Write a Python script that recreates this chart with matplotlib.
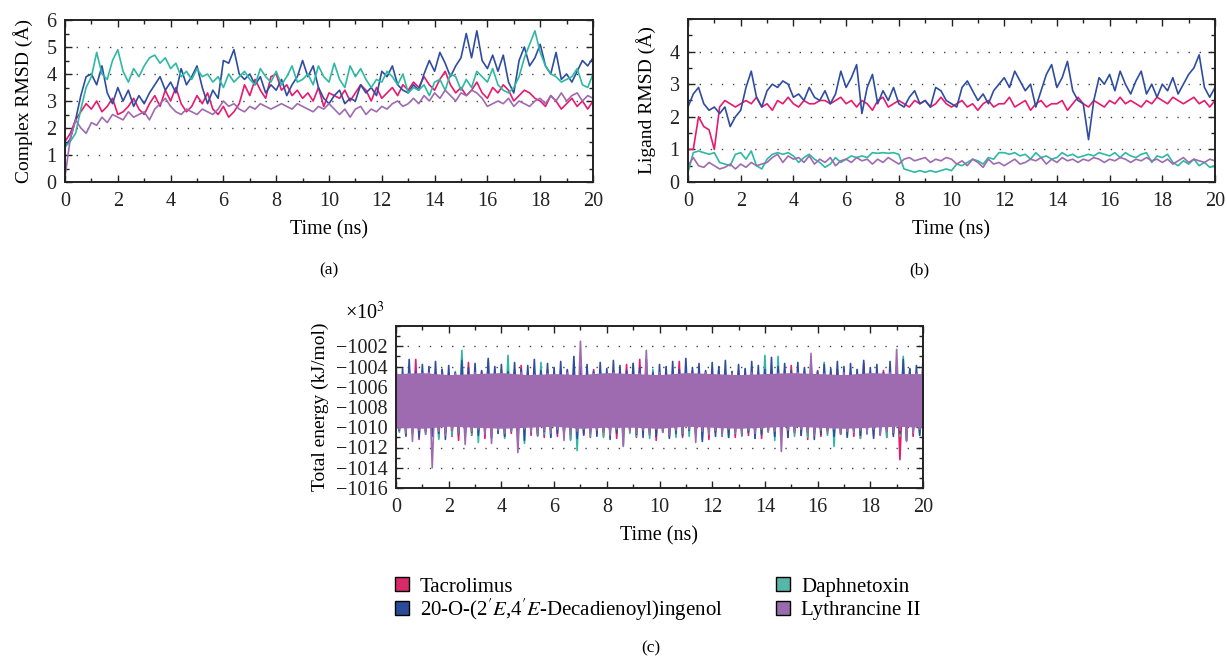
import numpy as np
import matplotlib
matplotlib.use("Agg")
import matplotlib.pyplot as plt
from matplotlib.lines import Line2D
from matplotlib.ticker import MultipleLocator

plt.rcParams['font.family'] = ['Liberation Serif', 'DejaVu Serif']
plt.rcParams['mathtext.fontset'] = 'stix'

# ---------------- data ----------------
names = ["Tacrolimus", "20-O-(2$'E$,4$'E$-Decadienoyl)ingenol",
         "Daphnetoxin", "Lythrancine II"]
colors = ["#E8196E", "#2F4DA0", "#2DB9A3", "#9E6BB0"]
legend_colors = ["#D92A6C", "#2A4C98", "#56B6A8", "#9A6AAE"]

# (a) Complex RMSD (Angstrom), sampled every 0.2 ns
cx_tac = [1.5,1.8,2.3,2.6,2.9, 2.7,3.0,2.6,2.8,3.1,
          2.5,2.6,2.8,3.1,2.7, 2.5,2.9,3.2,2.8,3.4,
          3.0,3.5,2.9,2.6,2.8, 3.2,2.9,3.3,2.7,2.5,
          2.8,2.4,2.6,2.9,3.6, 3.2,3.8,3.4,3.1,3.9,
          4.0,3.4,3.6,3.2,3.4, 3.1,3.3,3.0,3.5,2.8,
          3.3,3.2,3.1,3.4,3.0, 3.3,3.6,3.4,3.0,3.5,
          3.1,3.3,3.5,3.2,3.6, 3.4,3.7,3.5,3.9,3.6,
          3.4,3.8,4.1,3.6,3.3, 3.5,3.2,3.4,3.7,3.3,
          3.1,3.5,3.3,3.6,3.4, 3.0,3.2,3.4,3.3,3.1,
          3.0,2.8,3.2,3.0,2.7, 2.9,3.1,2.8,3.0,2.7, 3.0]
cx_ing = [1.3,1.6,2.3,3.2,3.9, 4.0,3.6,4.3,3.3,2.9,
          3.5,3.0,3.4,2.8,3.2, 2.9,3.3,3.6,3.9,3.4,
          3.7,3.3,4.2,3.6,3.9, 4.3,3.5,2.9,3.4,3.1,
          4.5,4.4,4.9,4.0,3.8, 4.0,3.6,3.9,3.3,3.6,
          3.4,3.8,3.2,3.6,3.9, 4.5,3.9,4.3,3.5,3.1,
          2.9,3.2,3.4,2.9,3.1, 3.0,3.6,3.3,3.5,3.2,
          4.1,3.9,4.3,3.6,3.4, 3.3,3.6,3.4,4.0,4.5,
          4.1,4.8,4.4,3.9,4.3, 4.6,5.5,4.6,5.6,4.5,
          4.2,4.7,4.1,4.7,3.7, 3.3,4.5,5.0,4.3,4.6,
          5.1,4.3,4.0,4.8,3.8, 4.0,3.7,4.1,4.5,4.3, 4.6]
cx_dap = [1.3,1.5,1.8,2.7,3.5, 3.9,4.8,4.0,3.8,4.5,
          4.9,4.1,3.7,4.2,3.9, 4.3,4.6,4.7,4.4,4.6,
          4.2,4.4,3.9,4.1,3.8, 4.2,3.9,4.0,3.7,3.9,
          3.5,4.0,3.7,3.9,4.1, 3.8,3.6,4.2,3.9,3.7,
          4.1,3.6,3.9,4.3,3.7, 3.8,4.0,3.6,4.3,3.9,
          3.7,4.4,3.8,3.5,4.3, 3.9,4.2,3.8,3.5,3.8,
          3.7,4.1,3.9,3.6,4.0, 3.3,3.5,3.4,3.6,3.2,
          3.7,3.8,3.4,4.0,3.9, 3.4,3.8,3.5,4.1,3.9,
          3.7,4.2,3.6,3.4,3.3, 3.5,3.9,4.6,5.1,5.6,
          4.8,4.3,4.0,3.9,3.7, 3.8,3.9,4.2,3.6,3.5, 4.0]
cx_lyt = [0.2,1.6,2.3,2.0,1.8, 2.2,2.1,2.4,2.2,2.5,
          2.4,2.3,2.6,2.4,2.5, 2.6,2.3,2.7,2.9,3.1,
          2.8,2.6,2.5,2.7,2.6, 2.5,2.7,2.6,2.5,2.7,
          3.0,2.8,2.9,2.7,2.6, 2.8,2.7,2.9,2.8,2.7,
          2.8,2.9,2.8,2.7,2.9, 2.8,2.7,2.6,2.8,2.7,
          2.9,2.7,2.5,2.7,2.4, 2.7,2.8,2.5,2.7,2.6,
          2.8,2.7,2.9,3.0,2.8, 2.9,3.1,2.9,3.2,3.0,
          3.3,3.1,3.4,3.2,3.0, 3.3,3.2,3.4,3.3,3.1,
          2.8,2.9,3.0,2.9,3.1, 2.8,3.0,2.9,2.8,3.0,
          3.1,2.9,3.2,3.0,3.3, 3.0,3.2,3.3,3.0,3.2, 3.1]

# (b) Ligand RMSD (Angstrom), sampled every 0.2 ns
lg_tac = [1.0,1.0,2.0,1.7,1.6, 1.0,2.3,2.5,2.4,2.3,
          2.4,2.5,2.4,2.6,2.3, 2.4,2.2,2.5,2.4,2.6,
          2.4,2.3,2.5,2.4,2.4, 2.5,2.5,2.4,2.5,2.6,
          2.4,2.5,2.3,2.5,2.4, 2.2,2.5,2.6,2.3,2.4,
          2.5,2.4,2.3,2.5,2.4, 2.5,2.3,2.4,2.6,2.4,
          2.3,2.4,2.5,2.3,2.4, 2.2,2.4,2.5,2.3,2.4,
          2.4,2.6,2.3,2.4,2.5, 2.2,2.4,2.5,2.3,2.4,
          2.4,2.5,2.2,2.4,2.6, 2.4,2.3,2.5,2.4,2.3,
          2.5,2.4,2.6,2.4,2.5, 2.4,2.3,2.5,2.4,2.6,
          2.5,2.4,2.6,2.5,2.4, 2.5,2.6,2.4,2.5,2.3, 2.5]
lg_ing = [2.3,2.7,2.9,2.4,2.2, 2.3,2.1,2.3,1.7,2.0,
          2.2,2.9,3.4,2.6,2.3, 2.8,3.0,2.9,3.1,3.0,
          2.6,2.7,2.5,2.9,2.6, 2.5,2.8,2.4,2.7,3.4,
          2.9,3.2,3.6,2.1,2.9, 3.3,2.4,2.8,2.5,2.9,
          2.4,2.3,2.6,2.8,2.4, 2.5,2.3,2.9,2.8,2.5,
          2.4,2.3,2.9,3.1,2.8, 2.5,2.7,2.4,2.8,3.0,
          3.2,2.9,3.4,3.1,2.8, 3.0,2.3,2.8,3.3,3.6,
          2.9,3.2,3.7,2.8,2.5, 2.4,1.3,2.5,3.2,3.0,
          3.3,2.8,3.4,3.0,2.7, 3.1,3.4,2.7,3.0,2.6,
          3.0,2.8,3.2,2.7,3.0, 3.3,3.5,3.9,2.9,2.6, 2.9]
lg_dap = [0.3,0.9,0.95,0.9,0.85, 0.9,0.6,0.55,0.5,0.85,
          0.9,0.7,0.95,0.5,0.4, 0.7,0.85,0.9,0.85,0.9,
          0.8,0.6,0.75,0.85,0.7, 0.6,0.45,0.55,0.75,0.6,
          0.7,0.8,0.75,0.8,0.75, 0.9,0.88,0.9,0.88,0.9,
          0.85,0.4,0.35,0.3,0.35, 0.3,0.35,0.3,0.35,0.4,
          0.35,0.55,0.5,0.6,0.7, 0.65,0.55,0.75,0.7,0.9,
          0.9,0.85,0.9,0.8,0.85, 0.7,0.9,0.75,0.8,0.7,
          0.75,0.9,0.8,0.85,0.75, 0.8,0.85,0.8,0.9,0.85,
          0.8,0.9,0.75,0.9,0.8, 0.75,0.85,0.9,0.6,0.8,
          0.75,0.85,0.6,0.5,0.65, 0.55,0.7,0.5,0.6,0.45, 0.5]
lg_lyt = [0.5,0.75,0.5,0.45,0.6, 0.5,0.4,0.45,0.55,0.4,
          0.55,0.45,0.6,0.5,0.55, 0.6,0.75,0.85,0.6,0.8,
          0.7,0.75,0.6,0.8,0.55, 0.7,0.6,0.75,0.5,0.65,
          0.7,0.6,0.75,0.65,0.7, 0.55,0.7,0.6,0.75,0.65,
          0.55,0.7,0.75,0.65,0.7, 0.75,0.6,0.7,0.65,0.75,
          0.7,0.55,0.65,0.5,0.7, 0.6,0.45,0.7,0.55,0.6,
          0.5,0.6,0.7,0.55,0.6, 0.7,0.65,0.75,0.55,0.7,
          0.6,0.75,0.65,0.7,0.6, 0.7,0.65,0.75,0.7,0.6,
          0.7,0.65,0.75,0.7,0.6, 0.7,0.65,0.75,0.65,0.7,
          0.6,0.7,0.55,0.65,0.75, 0.6,0.7,0.65,0.6,0.7, 0.65]

# (c) Total energy (x10^3 kJ/mol): upper and lower excursions, every 0.25 ns
en_tac_hi = [-1004.6,-1004.9,-1004.4,-1003.3,-1004.8,-1004.5,-1005.0,-1004.3,-1004.7,-1004.9,
             -1004.4,-1003.6,-1004.8,-1004.5,-1004.9,-1004.3,-1004.6,-1005.0,-1004.4,-1003.9,
             -1004.7,-1004.5,-1004.9,-1004.3,-1004.6,-1004.8,-1004.4,-1004.9,-1004.5,-1004.7,
             -1004.3,-1004.8,-1004.6,-1004.4,-1004.9,-1003.8,-1004.6,-1003.3,-1004.8,-1004.5,
             -1004.7,-1004.3,-1004.9,-1003.5,-1004.6,-1004.4,-1004.8,-1004.5,-1004.7,-1004.3,
             -1004.9,-1004.6,-1004.4,-1004.8,-1004.5,-1004.7,-1004.3,-1004.9,-1004.6,-1004.4,
             -1003.9,-1004.8,-1004.5,-1004.7,-1004.4,-1004.9,-1004.6,-1004.3,-1004.8,-1004.5,
             -1004.7,-1003.7,-1004.6,-1004.9,-1004.4,-1004.7,-1004.5,-1004.8,-1004.3,-1004.6, -1004.7]
en_tac_lo = [-1010.4,-1010.9,-1010.6,-1011.2,-1010.5,-1010.8,-1011.0,-1010.4,-1010.9,-1011.3,
             -1010.6,-1010.8,-1010.5,-1011.1,-1010.7,-1010.4,-1010.9,-1010.6,-1011.4,-1010.5,
             -1010.8,-1010.6,-1011.0,-1010.4,-1010.9,-1010.7,-1011.2,-1010.5,-1010.8,-1011.0,
             -1010.6,-1010.9,-1010.4,-1011.1,-1010.7,-1010.5,-1011.0,-1010.6,-1010.8,-1011.3,
             -1010.5,-1010.9,-1010.7,-1011.0,-1010.4,-1010.8,-1010.6,-1011.2,-1010.5,-1010.9,
             -1010.7,-1011.0,-1010.5,-1010.8,-1010.6,-1011.1,-1010.4,-1010.9,-1010.7,-1011.0,
             -1010.5,-1010.8,-1011.2,-1010.6,-1010.9,-1010.4,-1011.0,-1010.7,-1010.5,-1010.9,
             -1011.1,-1010.6,-1010.8,-1010.5,-1011.0,-1010.7,-1013.2,-1010.6,-1010.9,-1010.5, -1010.8]
en_ing_hi = [-1003.6,-1004.2,-1003.3,-1004.5,-1003.8,-1004.0,-1003.5,-1004.3,-1003.9,-1004.6,
             -1003.4,-1004.1,-1003.7,-1004.4,-1003.2,-1004.0,-1003.8,-1004.5,-1003.6,-1004.2,
             -1003.9,-1003.3,-1004.4,-1003.7,-1004.1,-1003.5,-1004.3,-1003.0,-1004.0,-1003.8,
             -1004.5,-1003.6,-1004.2,-1003.4,-1003.9,-1004.4,-1003.7,-1004.1,-1003.3,-1004.6,
             -1003.8,-1004.0,-1003.5,-1004.3,-1003.2,-1004.1,-1003.7,-1004.4,-1003.6,-1004.0,
             -1003.4,-1004.5,-1003.8,-1004.2,-1003.5,-1003.9,-1004.3,-1003.1,-1004.0,-1003.7,
             -1004.4,-1003.6,-1004.1,-1003.3,-1004.5,-1003.8,-1004.2,-1003.5,-1004.0,-1003.7,
             -1004.3,-1003.4,-1004.1,-1003.8,-1004.6,-1003.5,-1004.0,-1003.3,-1004.2,-1003.9, -1003.2]
en_ing_lo = [-1010.3,-1010.8,-1010.5,-1011.0,-1010.4,-1010.9,-1010.6,-1011.2,-1010.3,-1010.7,
             -1011.0,-1010.5,-1010.8,-1010.4,-1011.1,-1010.6,-1010.9,-1010.3,-1010.7,-1011.3,
             -1010.5,-1010.8,-1010.4,-1011.0,-1010.6,-1010.9,-1010.3,-1011.1,-1010.7,-1010.5,
             -1010.9,-1010.4,-1011.2,-1010.6,-1010.8,-1010.3,-1010.7,-1011.0,-1010.5,-1010.9,
             -1010.4,-1011.1,-1010.6,-1010.8,-1010.3,-1010.7,-1011.4,-1010.5,-1010.9,-1010.6,
             -1011.0,-1010.4,-1010.8,-1010.5,-1011.1,-1010.7,-1010.3,-1010.9,-1010.6,-1011.0,
             -1010.4,-1010.8,-1010.5,-1011.2,-1010.7,-1010.3,-1010.9,-1010.6,-1011.0,-1010.4,
             -1010.8,-1010.5,-1011.1,-1010.7,-1010.4,-1010.9,-1010.6,-1011.3,-1010.5,-1010.8, -1010.6]
en_dap_hi = [-1004.5,-1004.8,-1004.3,-1004.7,-1004.4,-1004.9,-1004.6,-1004.3,-1004.8,-1004.5,
             -1002.4,-1004.7,-1004.4,-1004.9,-1003.4,-1004.6,-1004.3,-1002.9,-1004.5,-1004.8,
             -1004.4,-1004.7,-1003.6,-1004.5,-1004.9,-1004.3,-1004.6,-1004.8,-1004.4,-1004.7,
             -1004.5,-1004.3,-1004.9,-1004.6,-1004.4,-1004.8,-1003.7,-1004.5,-1004.7,-1004.3,
             -1004.9,-1004.6,-1004.4,-1004.8,-1004.5,-1004.7,-1004.3,-1004.9,-1004.6,-1004.4,
             -1004.8,-1004.5,-1004.7,-1004.3,-1004.9,-1004.6,-1002.9,-1004.4,-1003.0,-1004.8,
             -1004.5,-1004.7,-1004.3,-1004.9,-1004.6,-1003.6,-1004.4,-1004.8,-1004.5,-1004.7,
             -1004.3,-1004.9,-1004.6,-1004.4,-1004.8,-1004.5,-1004.7,-1003.0,-1004.3,-1004.6, -1004.5]
en_dap_lo = [-1010.5,-1010.9,-1010.4,-1011.0,-1010.7,-1010.5,-1011.2,-1010.6,-1010.8,-1010.4,
             -1011.0,-1010.7,-1011.5,-1010.5,-1010.9,-1010.6,-1011.1,-1010.4,-1010.8,-1011.6,
             -1010.5,-1010.9,-1010.7,-1011.0,-1010.4,-1010.8,-1011.3,-1012.3,-1010.6,-1010.9,
             -1010.5,-1011.0,-1010.7,-1010.4,-1011.8,-1010.6,-1010.9,-1010.5,-1011.1,-1010.7,
             -1010.4,-1010.8,-1011.0,-1010.6,-1010.9,-1010.5,-1011.2,-1010.7,-1010.4,-1010.8,
             -1011.0,-1010.6,-1010.9,-1010.5,-1011.1,-1010.7,-1010.4,-1011.3,-1010.8,-1010.6,
             -1010.9,-1010.5,-1011.0,-1010.7,-1010.4,-1010.8,-1011.9,-1010.6,-1010.9,-1010.5,
             -1011.1,-1010.7,-1010.4,-1010.8,-1011.0,-1010.6,-1010.9,-1011.3,-1010.5,-1010.8, -1010.6]
en_lyt_hi = [-1004.8,-1005.1,-1004.7,-1005.2,-1004.9,-1004.6,-1005.0,-1004.8,-1005.2,-1004.7,
             -1004.9,-1005.1,-1004.6,-1005.0,-1004.8,-1005.2,-1004.7,-1004.9,-1005.1,-1004.6,
             -1005.0,-1004.8,-1005.2,-1004.7,-1004.9,-1005.1,-1004.6,-1005.0,-1001.5,-1005.2,
             -1004.7,-1004.9,-1005.1,-1004.6,-1005.0,-1004.8,-1005.2,-1004.7,-1002.4,-1005.1,
             -1004.6,-1005.0,-1004.8,-1005.2,-1004.7,-1004.9,-1005.1,-1004.6,-1005.0,-1004.8,
             -1005.2,-1004.7,-1004.9,-1005.1,-1004.6,-1005.0,-1004.8,-1005.2,-1004.7,-1004.9,
             -1005.1,-1004.6,-1005.0,-1002.7,-1005.2,-1004.7,-1004.9,-1005.1,-1004.6,-1005.0,
             -1004.8,-1005.2,-1004.7,-1004.9,-1005.1,-1004.6,-1002.3,-1004.8,-1005.2,-1004.7, -1004.9]
en_lyt_lo = [-1010.2,-1010.6,-1011.4,-1010.3,-1010.7,-1014.0,-1010.4,-1010.8,-1010.3,-1010.6,
             -1011.7,-1010.4,-1010.2,-1010.7,-1011.6,-1010.3,-1010.6,-1010.4,-1012.5,-1010.2,
             -1010.5,-1010.8,-1010.3,-1010.6,-1010.2,-1011.3,-1010.7,-1010.4,-1010.2,-1010.6,
             -1010.3,-1010.5,-1010.8,-1010.2,-1011.9,-1010.4,-1010.6,-1010.3,-1010.7,-1010.2,
             -1010.5,-1010.8,-1010.3,-1010.6,-1010.2,-1011.5,-1010.4,-1010.7,-1010.3,-1010.6,
             -1010.2,-1010.5,-1010.8,-1010.3,-1010.6,-1010.2,-1010.5,-1010.4,-1012.4,-1010.3,
             -1010.6,-1010.2,-1010.5,-1010.8,-1010.3,-1010.6,-1010.2,-1010.7,-1010.4,-1010.5,
             -1010.3,-1010.6,-1010.2,-1010.8,-1010.4,-1010.5,-1010.3,-1011.4,-1010.6,-1010.2, -1010.5]
# dense central band of Lythrancine II (solid purple), every 1 ns
en_lyt_core_hi = [-1004.7,-1004.6,-1004.8,-1004.7,-1004.6,-1004.8,-1004.7,-1004.8,-1004.6,-1004.7,
                  -1004.8,-1004.6,-1004.7,-1004.8,-1004.7,-1004.6,-1004.7,-1004.8,-1004.6,-1004.7, -1004.7]
en_lyt_core_lo = [-1010.0,-1010.1,-1009.9,-1010.0,-1010.1,-1010.0,-1009.9,-1010.1,-1010.0,-1010.0,
                  -1010.1,-1009.9,-1010.0,-1010.1,-1010.0,-1009.9,-1010.0,-1010.1,-1010.0,-1009.9, -1010.0]

# ---------------- drawing ----------------
W, H = 1227, 665
fig = plt.figure(figsize=(W / 100, H / 100), dpi=100)

def rect(l, t, r, b):
    return [l / W, 1 - b / H, (r - l) / W, (b - t) / H]

axA = fig.add_axes(rect(65, 20, 593, 182))
axB = fig.add_axes(rect(688, 19, 1215, 182))
axC = fig.add_axes(rect(396, 326, 923, 488))

FS = 14.5

def style(ax, ymaj, ymin, ylim, gridvals):
    ax.set_xlim(0, 20)
    ax.set_ylim(*ylim)
    ax.xaxis.set_major_locator(MultipleLocator(2))
    ax.xaxis.set_minor_locator(MultipleLocator(1))
    ax.yaxis.set_major_locator(MultipleLocator(ymaj))
    ax.yaxis.set_minor_locator(MultipleLocator(ymin))
    ax.tick_params(which='both', direction='in', top=True, right=True,
                   labelsize=FS, colors='#222222', width=1.0)
    ax.tick_params(which='major', length=5)
    ax.tick_params(axis='x', which='major', pad=7)
    ax.tick_params(axis='y', which='major', pad=6)
    ax.tick_params(which='minor', length=3)
    for s in ax.spines.values():
        s.set_linewidth(1.4)
        s.set_color('#222222')
    for g in gridvals:
        ax.axhline(g, color='#444444', lw=1.0, ls=(0, (1, 7)), zorder=0.5)
    ax.set_xlabel("Time (ns)", fontsize=FS, labelpad=7)

series_a = [cx_tac, cx_ing, cx_dap, cx_lyt]
series_b = [lg_tac, lg_ing, lg_dap, lg_lyt]

for i in range(4):
    ys = series_a[i]
    axA.plot(np.linspace(0, 20, len(ys)), ys, color=colors[i], lw=1.2, zorder=2 + i * 0.1)
for i in range(4):
    ys = series_b[i]
    axB.plot(np.linspace(0, 20, len(ys)), ys, color=colors[i], lw=1.2, zorder=2 + i * 0.1)

style(axA, 1, 0.5, (0, 6), [1, 2, 3, 4, 5])
axA.set_ylabel("Complex RMSD (Å)", fontsize=14, labelpad=10)
style(axB, 1, 0.5, (0, 5), [1, 2, 3, 4])
axB.set_yticks([0, 1, 2, 3, 4])
axB.set_ylabel("Ligand RMSD (Å)", fontsize=14, labelpad=10)

energy = [(en_tac_hi, en_tac_lo), (en_dap_hi, en_dap_lo),
          (en_ing_hi, en_ing_lo), (en_lyt_hi, en_lyt_lo)]
energy_colors = [colors[0], colors[2], colors[1], colors[3]]
for (hi, lo), c in zip(energy, energy_colors):
    n = len(hi)
    t = np.linspace(0, 20, n)
    dt = t[1] - t[0]
    tt = np.empty(2 * n)
    yy = np.empty(2 * n)
    tt[0::2] = t
    tt[1::2] = np.minimum(t + dt / 2, 20)
    yy[0::2] = hi
    yy[1::2] = lo
    axC.plot(tt, yy, color=c, lw=1.2, zorder=2)
tc = np.linspace(0, 20, len(en_lyt_core_hi))
axC.fill_between(tc, en_lyt_core_lo, en_lyt_core_hi, color=colors[3], lw=0, zorder=2.5)

style(axC, 2, 1, (-1016, -1000), [-1014, -1012, -1010, -1008, -1006, -1004, -1002])
axC.set_yticks(np.arange(-1016, -1001, 2))
axC.set_yticklabels(["\u22121016", "\u22121014", "\u22121012", "\u22121010", "\u22121008",
                     "\u22121006", "\u22121004", "\u22121002"])
axC.set_ylabel("Total energy (kJ/mol)", fontsize=14, labelpad=5)
fig.text(345 / W, 1 - 313 / H, "×10$^{3}$", fontsize=FS, ha='left', va='center')

# captions
fig.text(329 / W, 1 - 270 / H, "(a)", fontsize=12.5, ha='center', va='center')
fig.text(919 / W, 1 - 270 / H, "(b)", fontsize=12.5, ha='center', va='center')
fig.text(651 / W, 1 - 648 / H, "(c)", fontsize=12.5, ha='center', va='center')

# legend: two columns (fig.legend registers each legend on the figure)
handles = [Line2D([], [], ls='none', marker='s', markersize=9.5, markerfacecolor=legend_colors[i],
                  markeredgecolor='black', markeredgewidth=1.0) for i in range(4)]
fig.legend(handles[:2], names[:2], loc='upper left',
           bbox_to_anchor=(392 / W, 1 - 577 / H), frameon=False,
           fontsize=15, handlelength=1.0, handletextpad=0.35,
           labelspacing=0.0, borderpad=0, borderaxespad=0)
fig.legend(handles[2:], names[2:], loc='upper left',
           bbox_to_anchor=(773 / W, 1 - 577 / H), frameon=False,
           fontsize=15, handlelength=1.0, handletextpad=0.35,
           labelspacing=0.2, borderpad=0, borderaxespad=0)

fig.savefig("out.png", dpi=100)
